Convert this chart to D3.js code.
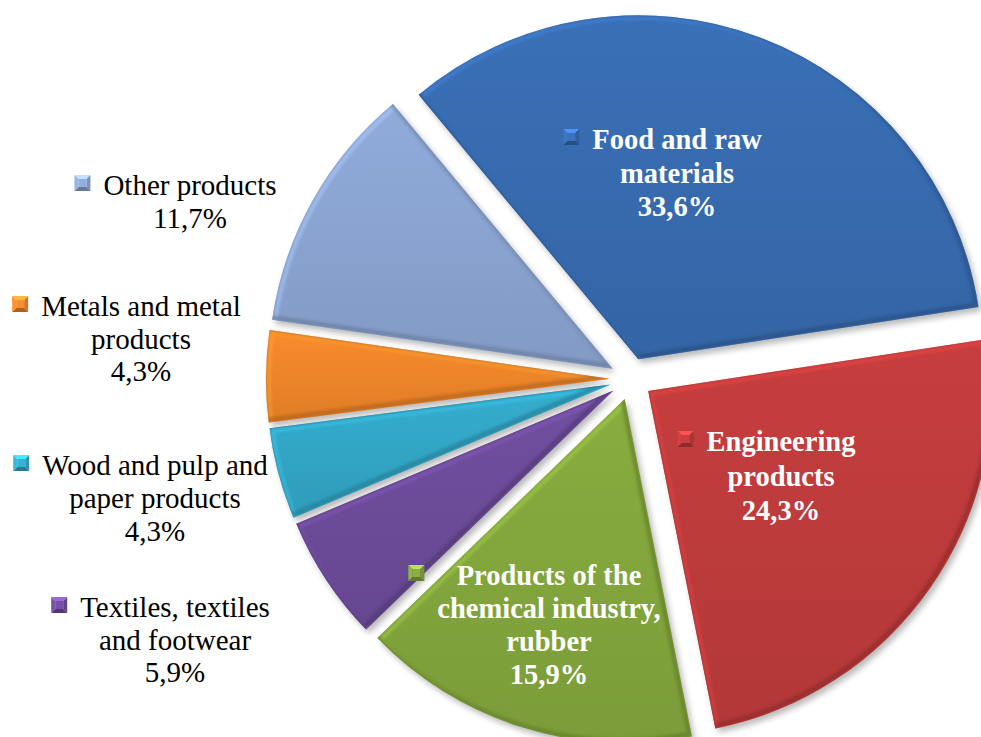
<!DOCTYPE html>
<html>
<head>
<meta charset="utf-8">
<script src="https://cdn.jsdelivr.net/npm/d3@7"></script>
<style>
  html, body { margin: 0; padding: 0; background: #ffffff; }
  svg { display: block; }
</style>
</head>
<body>
<svg id="chart" width="981" height="737"></svg>
<script>
// ---- data ----
const categories = [
  "Food and raw materials",
  "Engineering products",
  "Products of the chemical industry, rubber",
  "Textiles, textiles and footwear",
  "Wood and pulp and paper products",
  "Metals and metal products",
  "Other products"
];
const values = [33.6, 24.3, 15.9, 5.9, 4.3, 4.3, 11.7];
const labelLines = [
  ["Food and raw", "materials"],
  ["Engineering", "products"],
  ["Products of the", "chemical industry,", "rubber"],
  ["Textiles, textiles", "and footwear"],
  ["Wood and pulp and", "paper products"],
  ["Metals and metal", "products"],
  ["Other products"]
];
const colors = ["#386cb1", "#c03c3c", "#84a73d", "#6e4c9b", "#33a8c8", "#f0862a", "#8ca5d3"];

// ---- layout (not data) ----
const W = 981, H = 737;
const cx = 631, cy = 379, R = 344, explode = 21;
const startDeg = -39.7;
const labelLayout = [
  { x: 677, y: 149, lh: 33.5, bold: true,  inside: true },
  { x: 781, y: 451, lh: 34.5, bold: true,  inside: true },
  { x: 549, y: 585, lh: 33,   bold: true,  inside: true },
  { x: 175, y: 617, lh: 32.5, bold: false, inside: false },
  { x: 155, y: 475, lh: 33,   bold: false, inside: false },
  { x: 141, y: 316, lh: 32.5, bold: false, inside: false },
  { x: 190, y: 195, lh: 33.3, bold: false, inside: false }
];

const fmt = v => d3.format(".1f")(v).replace(".", ",") + "%";

const svg = d3.select("#chart");
const defs = svg.append("defs");

const fShadow = defs.append("filter").attr("id", "shadow").attr("x", "-20%").attr("y", "-20%").attr("width", "140%").attr("height", "140%");
fShadow.append("feGaussianBlur").attr("stdDeviation", 3);

const fSoft = defs.append("filter").attr("id", "soft").attr("x", "-10%").attr("y", "-10%").attr("width", "120%").attr("height", "120%");
fSoft.append("feGaussianBlur").attr("stdDeviation", 1.6);

const pie = d3.pie().sort(null).value(d => d)
  .startAngle(startDeg * Math.PI / 180)
  .endAngle(startDeg * Math.PI / 180 + 2 * Math.PI);
const arcs = pie(values);
const arc = d3.arc().innerRadius(0).outerRadius(R);

// gradients
arcs.forEach((a, i) => {
  const c = d3.color(colors[i]);
  const g = defs.append("linearGradient").attr("id", "grad" + i)
    .attr("x1", 0).attr("y1", 0).attr("x2", 0).attr("y2", 1);
  g.append("stop").attr("offset", "0%").attr("stop-color", c.brighter(0.1).formatHex());
  g.append("stop").attr("offset", "100%").attr("stop-color", c.darker(0.2).formatHex());
  defs.append("clipPath").attr("id", "clip" + i).append("path").attr("d", arc(a));
});

const root = svg.append("g").attr("transform", `translate(${cx},${cy})`);

const slices = root.selectAll("g.slice").data(arcs).join("g")
  .attr("class", "slice")
  .attr("transform", d => {
    const mid = (d.startAngle + d.endAngle) / 2;
    return `translate(${explode * Math.sin(mid)},${-explode * Math.cos(mid)})`;
  });

// drop shadow
slices.append("path")
  .attr("d", arc)
  .attr("transform", "translate(3,4)")
  .attr("fill", "#000")
  .attr("opacity", 0.28)
  .attr("filter", "url(#shadow)");

// body
slices.append("path")
  .attr("d", arc)
  .attr("fill", (d, i) => `url(#grad${i})`);

// bevel highlight & shade (clipped)
slices.each(function(d, i) {
  const g = d3.select(this).append("g").attr("clip-path", `url(#clip${i})`);
  const c = d3.color(colors[i]);
  g.append("path").attr("d", arc(d))
    .attr("transform", "translate(2.2,2.2)")
    .attr("fill", "none")
    .attr("stroke", c.brighter(0.6).formatHex())
    .attr("stroke-width", 5)
    .attr("opacity", 0.55)
    .attr("filter", "url(#soft)");
  g.append("path").attr("d", arc(d))
    .attr("transform", "translate(-2.2,-2.2)")
    .attr("fill", "none")
    .attr("stroke", c.darker(0.9).formatHex())
    .attr("stroke-width", 5)
    .attr("opacity", 0.65)
    .attr("filter", "url(#soft)");
});

// ---- labels ----
const labels = svg.append("g");
arcs.forEach((a, i) => {
  const L = labelLayout[i];
  const lines = labelLines[i].concat([fmt(values[i])]);
  const g = labels.append("g");
  const t = g.append("text")
    .attr("text-anchor", "middle")
    .style("font-family", "\"Liberation Serif\", \"Times New Roman\", Times, serif")
    .attr("font-size", L.bold ? 28.5 : 29)
    .attr("font-weight", L.bold ? "bold" : "normal")
    .attr("fill", L.inside ? "#ffffff" : "#000000");
  lines.forEach((ln, k) => {
    t.append("tspan").attr("x", L.x).attr("y", L.y + k * L.lh).text(ln);
  });
  // legend key marker left of the widest line
  let maxW = 0;
  t.selectAll("tspan").each(function() { maxW = Math.max(maxW, this.getComputedTextLength()); });
  const s = 16, b = 4;
  const mx = L.x - maxW / 2 - 13 - s;
  const my = L.y - 4 - s;
  const c = d3.color(colors[i]);
  const mk = g.append("g").attr("transform", `translate(${mx},${my})`);
  const faces = [
    { p: [[0,0],[s,0],[s-b,b],[b,b]], f: c.brighter(0.9) },
    { p: [[s,0],[s,s],[s-b,s-b],[s-b,b]], f: c.darker(0.35) },
    { p: [[s,s],[0,s],[b,s-b],[s-b,s-b]], f: c.darker(0.9) },
    { p: [[0,s],[0,0],[b,b],[b,s-b]], f: c.brighter(0.25) }
  ];
  faces.forEach(fc => {
    mk.append("path").attr("d", d3.line()(fc.p) + "Z").attr("fill", fc.f.formatHex());
  });
  mk.append("rect").attr("x", b).attr("y", b).attr("width", s - 2 * b).attr("height", s - 2 * b)
    .attr("fill", c.brighter(0.15).formatHex());
});
</script>
</body>
</html>
